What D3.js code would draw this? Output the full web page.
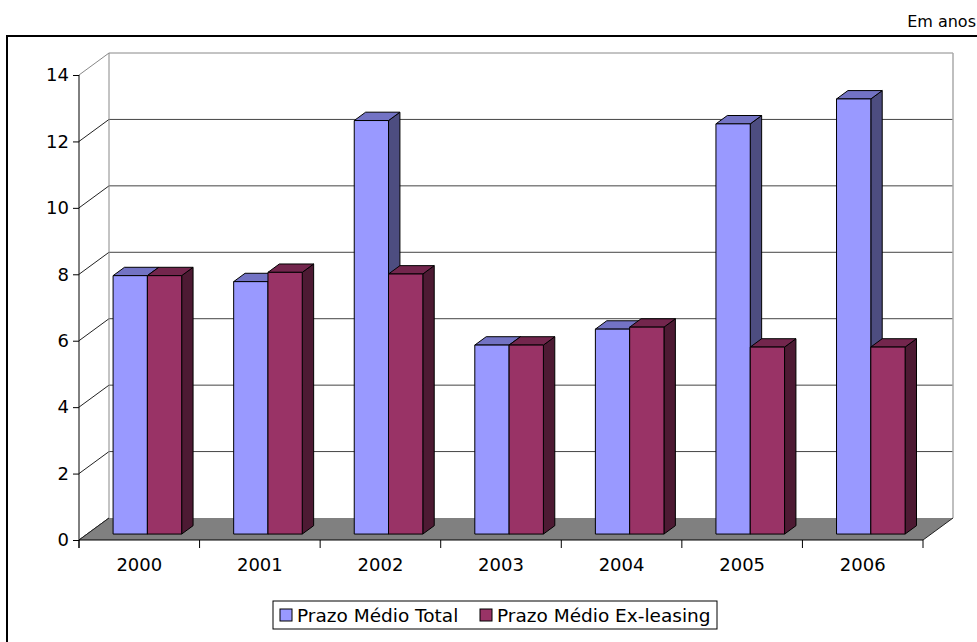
<!DOCTYPE html>
<html>
<head>
<meta charset="utf-8">
<script src="https://cdn.jsdelivr.net/npm/d3@7"></script>
<style>
  body { margin: 0; background: #fff; }
  svg text { font-family: Verdana, "DejaVu Sans", sans-serif; fill: #000; }
</style>
</head>
<body>
<svg width="977" height="642"></svg>
<script>
const years = ["2000", "2001", "2002", "2003", "2004", "2005", "2006"];
const seriesNames = ["Prazo Médio Total", "Prazo Médio Ex-leasing"];
const prazoTotal = [7.78, 7.6, 12.45, 5.69, 6.17, 12.35, 13.1];
const prazoExLeasing = [7.78, 7.88, 7.83, 5.69, 6.23, 5.63, 5.63];
const yTicks = [0, 2, 4, 6, 8, 10, 12, 14];

const colors = [
  { front: "#9999ff", top: "#7373c4", side: "#4d4d80" },
  { front: "#993366", top: "#73264d", side: "#4d1a33" }
];

const svg = d3.select("svg");

// depth offsets of the 3d box
const DX = 30, DY = -22;
const f0 = 0.27, fb = 0.38; // bar front depth, bar thickness (fractions of depth)

const x = d3.scaleBand().domain(years).range([79, 923]).padding(0);
const xs = d3.scaleBand().domain(seriesNames).range([0, x.bandwidth()])
    .paddingInner(0).paddingOuter(0.758);
const y = d3.scaleLinear().domain([0, 14]).range([540, 75]);

// title + frame
svg.append("text").attr("x", 976).attr("y", 27).attr("text-anchor", "end")
    .style("font-size", "16px").text("Em anos");
svg.append("path").attr("d", "M7,642V36H977").attr("fill", "none")
    .attr("stroke", "#000").attr("stroke-width", 2);

const [x0, x1] = x.range();

// back wall
svg.append("rect").attr("x", x0 + DX).attr("y", y(14) + DY)
    .attr("width", x1 - x0).attr("height", y(0) - y(14)).attr("fill", "#fff");

// gridlines on back wall and side wall
yTicks.forEach(t => {
  if (t > 0) {
    svg.append("line").attr("x1", x0 + DX).attr("x2", x1 + DX)
        .attr("y1", y(t) + DY).attr("y2", y(t) + DY)
        .attr("stroke", t === 14 ? "#888" : "#444").attr("stroke-width", 1);
  }
  svg.append("line").attr("x1", x0).attr("y1", y(t))
      .attr("x2", x0 + DX).attr("y2", y(t) + DY)
      .attr("stroke", t === 14 ? "#888" : "#222").attr("stroke-width", 1);
});
svg.append("line").attr("x1", x0 + DX).attr("x2", x0 + DX)
    .attr("y1", y(14) + DY).attr("y2", y(0) + DY).attr("stroke", "#888");
svg.append("line").attr("x1", x1 + DX).attr("x2", x1 + DX)
    .attr("y1", y(14) + DY).attr("y2", y(0) + DY).attr("stroke", "#aaa").attr("stroke-width", 1.5);

// floor
svg.append("polygon")
    .attr("points", [[x0, y(0)], [x1, y(0)], [x1 + DX, y(0) + DY], [x0 + DX, y(0) + DY]].join(" "))
    .attr("fill", "#808080");
svg.append("path")
    .attr("d", `M${x0},${y(0)}L${x0 + DX},${y(0) + DY}M${x1},${y(0)}L${x1 + DX},${y(0) + DY}`)
    .attr("stroke", "#222").attr("fill", "none");

// bars
const data = years.map((yr, i) => ({ year: yr, values: [prazoTotal[i], prazoExLeasing[i]] }));
const bdx = fb * DX, bdy = fb * DY, ox = f0 * DX, oy = f0 * DY;

data.forEach(d => {
  d.values.forEach((v, s) => {
    const c = colors[s];
    const bx0 = x(d.year) + xs(seriesNames[s]) + ox;
    const bx1 = bx0 + xs.bandwidth();
    const yb = y(0) + oy, yt = y(v) + oy;
    const g = svg.append("g").attr("stroke", "#000").attr("stroke-width", 1)
        .attr("stroke-linejoin", "round");
    g.append("polygon")
        .attr("points", [[bx1, yb], [bx1, yt], [bx1 + bdx, yt + bdy], [bx1 + bdx, yb + bdy]].join(" "))
        .attr("fill", c.side);
    g.append("polygon")
        .attr("points", [[bx0, yt], [bx1, yt], [bx1 + bdx, yt + bdy], [bx0 + bdx, yt + bdy]].join(" "))
        .attr("fill", c.top);
    g.append("rect").attr("x", bx0).attr("y", yt)
        .attr("width", bx1 - bx0).attr("height", yb - yt).attr("fill", c.front);
  });
});

// y axis
const yAxis = svg.append("g").attr("transform", `translate(${x0},0)`)
    .call(d3.axisLeft(y).tickValues(yTicks).tickSize(6).tickPadding(4));
yAxis.select(".domain").attr("d", `M0,${y(14)}V${y(0) + 8}`);
yAxis.selectAll("text").style("font-size", "18px");

// x axis
const xAxis = svg.append("g").attr("transform", `translate(0,${y(0)})`)
    .call(d3.axisBottom(x).tickSize(0).tickPadding(18));
xAxis.select(".domain").attr("d", `M${x0},0H${x1}`);
xAxis.selectAll("text").style("font-size", "18px");
xAxis.selectAll(".sep").data(years.concat(["end"])).enter().append("line")
    .attr("class", "sep")
    .attr("x1", (d, i) => i < years.length ? x(d) : x1)
    .attr("x2", (d, i) => i < years.length ? x(d) : x1)
    .attr("y1", 0).attr("y2", 8).attr("stroke", "#000");

// legend
const legend = svg.append("g").attr("transform", "translate(273,601)");
legend.append("rect").attr("width", 444).attr("height", 28)
    .attr("fill", "#fff").attr("stroke", "#000");
const legendItems = [{ name: seriesNames[0], x: 7, c: colors[0] }, { name: seriesNames[1], x: 207, c: colors[1] }];
legendItems.forEach(it => {
  legend.append("rect").attr("x", it.x).attr("y", 8).attr("width", 12).attr("height", 12)
      .attr("fill", it.c.front).attr("stroke", "#000");
  legend.append("text").attr("x", it.x + 17).attr("y", 21).style("font-size", "18.5px").text(it.name);
});
</script>
</body>
</html>
